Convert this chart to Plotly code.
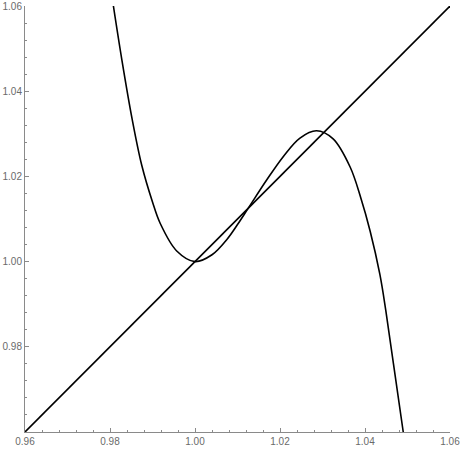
import plotly.graph_objects as go

# Curve
curve_x = [0.9808, 0.9828, 0.9852, 0.9875, 0.9900, 0.9918, 0.9957, 1.0000,
           1.0040, 1.0075, 1.0100, 1.0125, 1.0169, 1.0208, 1.0247, 1.0286,
           1.0325, 1.0365, 1.0390, 1.0412, 1.0435, 1.0449, 1.0467, 1.0490]
curve_y = [1.0600, 1.0473, 1.0335, 1.0225, 1.0140, 1.0090, 1.0025, 1.0000,
           1.0016, 1.0052, 1.0087, 1.0125, 1.0192, 1.0247, 1.0290, 1.0307,
           1.0288, 1.0222, 1.0150, 1.0072, 0.9970, 0.9885, 0.9760, 0.9600]

# Identity line
line_x = [0.96, 1.06]
line_y = [0.96, 1.06]

x_ticks = [0.96, 0.98, 1.00, 1.02, 1.04, 1.06]
x_labels = ["0.96", "0.98", "1.00", "1.02", "1.04", "1.06"]
y_ticks = [0.98, 1.00, 1.02, 1.04, 1.06]
y_labels = ["0.98", "1.00", "1.02", "1.04", "1.06"]

fig = go.Figure()
fig.add_trace(go.Scatter(x=line_x, y=line_y, mode="lines",
                         line=dict(color="black", width=1.6), hoverinfo="skip",
                         cliponaxis=True))
fig.add_trace(go.Scatter(x=curve_x, y=curve_y, mode="lines",
                         line=dict(color="black", width=1.6, shape="spline", smoothing=1.0),
                         hoverinfo="skip", cliponaxis=True))

axis_common = dict(
    showgrid=False, zeroline=False, showline=True, linecolor="#8a8a8a", linewidth=1,
    ticks="inside", ticklen=4, tickwidth=1, tickcolor="#8a8a8a",
    tickfont=dict(family="Liberation Sans, Arial, sans-serif", size=10, color="#6a6a6a"),
    minor=dict(ticks="inside", ticklen=2, tickcolor="#8a8a8a", dtick=0.004, tick0=0.96),
    mirror=False, automargin=False,
)

fig.update_layout(
    width=461, height=449,
    margin=dict(l=25, r=11, t=6, b=17, autoexpand=False),
    paper_bgcolor="white", plot_bgcolor="white",
    showlegend=False,
    xaxis=dict(range=[0.96, 1.06], tickvals=x_ticks, ticktext=x_labels, **axis_common),
    yaxis=dict(range=[0.96, 1.06], tickvals=y_ticks, ticktext=y_labels, **axis_common),
)

fig.write_html("out.html", config={"displayModeBar": False},
               post_script="document.body.style.margin='0';document.body.style.overflow='hidden';")
